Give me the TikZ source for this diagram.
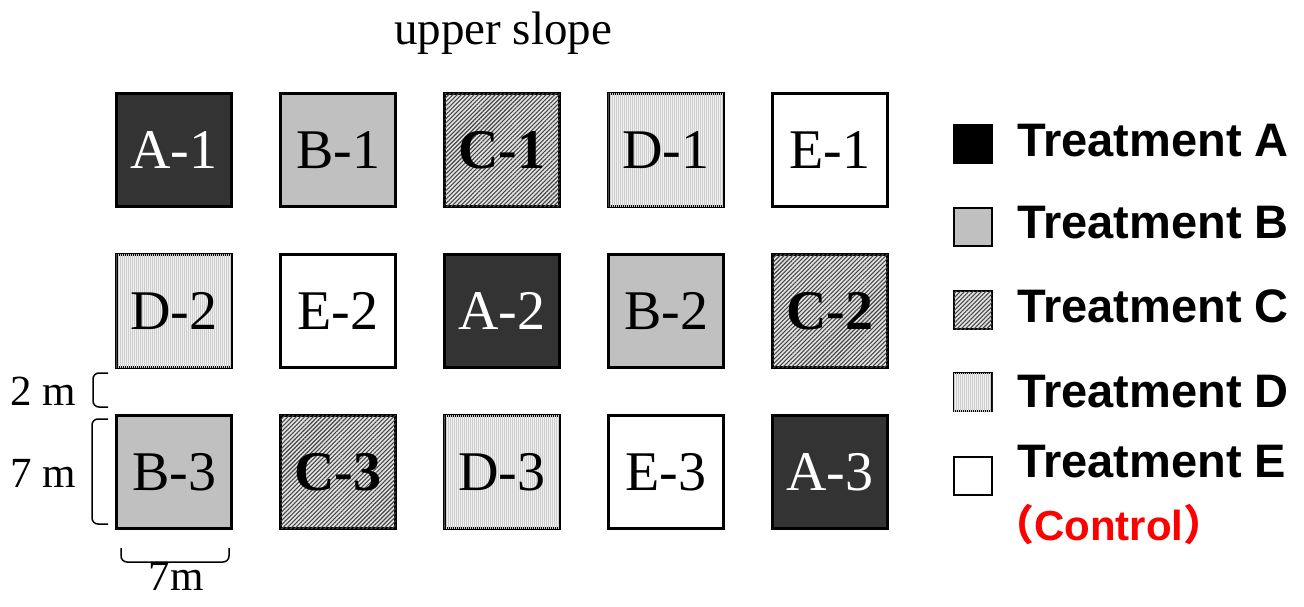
\documentclass[tikz,border=0pt]{standalone}
\usepackage{fontspec}
\setmainfont{Liberation Serif}
\newfontfamily\legendfont{Liberation Sans}
\newfontfamily\cjk{Noto Sans CJK SC}
\usetikzlibrary{patterns.meta}

\definecolor{trtAfill}{RGB}{51,51,51}
\definecolor{trtBfill}{RGB}{192,192,192}
\definecolor{trtCfill}{RGB}{228,228,228}
\definecolor{trtCline}{RGB}{70,70,70}
\definecolor{trtDfill}{RGB}{240,240,240}
\definecolor{trtDline}{RGB}{205,205,205}
\newcommand{\plotfont}{\fontsize{56}{60}\selectfont}
\newcommand{\keyfont}{\legendfont\bfseries\fontsize{47}{50}\selectfont}

\tikzset{
  plotbox/.style = {draw, line width=3pt, minimum width=115pt, minimum height=113pt,
                    inner sep=0pt, font=\plotfont},
  keybox/.style  = {draw, line width=1.5pt, minimum size=38pt, inner sep=0pt},
  keytext/.style = {anchor=base west, inner sep=0pt, font=\keyfont},
  sizetext/.style = {inner sep=0pt, font=\fontsize{43}{46}\selectfont},
  trtA/.style = {fill=trtAfill, text=white},
  trtB/.style = {fill=trtBfill},
  trtC/.style = {fill=trtCfill, font=\plotfont\bfseries,
                 postaction={pattern={Lines[angle=45, distance=3pt, line width=1.1pt]},
                             pattern color=trtCline}},
  trtD/.style = {fill=trtDfill,
                 postaction={pattern={Lines[angle=90, distance=2pt, line width=0.7pt]},
                             pattern color=trtDline}},
  trtE/.style = {fill=white},
  brace/.style = {line width=1.5pt, rounded corners=6pt}
}

\begin{document}
\begin{tikzpicture}[x=1pt, y=-1pt]
    \useasboundingbox (0,0) rectangle (1304,607);

    \node[anchor=base, inner sep=0pt, font=\fontsize{47}{50}\selectfont] (slope) at (503,45) {upper slope};

    % plots: name/treatment/column/row
    \foreach \lbl/\id/\trt/\col/\row in {
        A-1/A1/trtA/0/0, B-1/B1/trtB/1/0, C-1/C1/trtC/2/0, D-1/D1/trtD/3/0, E-1/E1/trtE/4/0,
        D-2/D2/trtD/0/1, E-2/E2/trtE/1/1, A-2/A2/trtA/2/1, B-2/B2/trtB/3/1, C-2/C2/trtC/4/1,
        B-3/B3/trtB/0/2, C-3/C3/trtC/1/2, D-3/D3/trtD/2/2, E-3/E3/trtE/3/2, A-3/A3/trtA/4/2}
        \node[plotbox, \trt] (\id) at ({174+164*\col}, {150+161*\row}) {\lbl};

    % plot sizes
    \coordinate (gaptop) at (108,373);
    \coordinate (gapbot) at (108,407);
    \draw[brace] (gaptop) -- (93,373) -- (93,407) -- (gapbot);
    \node[sizetext, anchor=base west] (gaplbl) at (10,405) {2 m};

    \coordinate (sidetop) at (108,419);
    \coordinate (sidebot) at (108,524);
    \draw[brace] (sidetop) -- (92,419) -- (92,524) -- (sidebot);
    \node[sizetext, anchor=base west] (sidelbl) at (10,487) {7 m};

    \coordinate (widthl) at (121,548);
    \coordinate (widthr) at (229,548);
    \draw[brace] (widthl) -- (121,562) -- (229,562) -- (widthr);
    \node[sizetext, anchor=base] (widthlbl) at (176,590) {7m};

    % legend
    \foreach \t/\trt/\y/\base in {A/trtA/144/157, B/trtB/227/238, C/trtC/310/322,
                                  D/trtD/392/407, E/trtE/476/477}
    {
        \node[keybox, \trt] (key\t) at (973,\y) {};
        \node[keytext] (keytxt\t) at (1017,\base) {Treatment \t};
    }
    \fill[black] (keyA.north west) rectangle (keyA.south east);
    \node[anchor=base west, inner sep=0pt, text=red, font=\keyfont\fontsize{42}{46}\selectfont]
        (ctrl) at (992,540) {{\cjk （}Control{\cjk ）}};
\end{tikzpicture}
\end{document}
